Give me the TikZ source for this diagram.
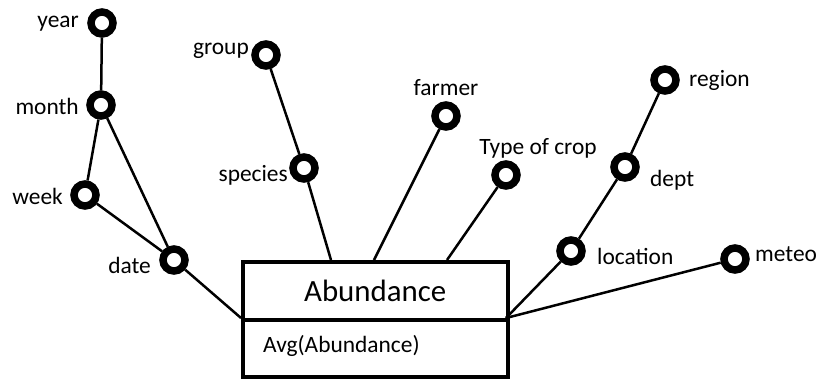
\documentclass[tikz,border=0pt]{standalone}
\usepackage{fontspec}
\setmainfont{Carlito}
\begin{document}
\begin{tikzpicture}[x=1bp,y=-1bp,
  dim/.style={circle,draw=black,line width=7.5bp,minimum size=22bp,inner sep=0pt,fill=white},
  lbl/.style={font=\fontsize{23.5}{25}\selectfont,inner sep=0pt},
  link/.style={line width=2.5bp}]
\useasboundingbox (0,0) rectangle (819,378);
% box
\node[draw,line width=3.5bp,minimum width=265bp,minimum height=58bp,inner sep=0pt,anchor=north west,font=\fontsize{31}{33}\selectfont] (fact) at (241,260) {Abundance};
\node[draw,line width=3.5bp,minimum width=265bp,minimum height=57bp,inner sep=0pt,anchor=north west] (meas) at (241,318) {};
\node[lbl,anchor=west] (measl) at (263,346) {Avg(Abundance)};
\coordinate (bl) at (241,318);
\coordinate (br) at (506,318);
\coordinate (t1) at (331,260);
\coordinate (t2) at (374,260);
\coordinate (t3) at (447,260);
% dimension circles
\node[dim] (year) at (102,23) {};
\node[dim] (month) at (101,105) {};
\node[dim] (week) at (85,195) {};
\node[dim] (date) at (174,260) {};
\node[dim] (group) at (266,55) {};
\node[dim] (species) at (304,168) {};
\node[dim] (farmer) at (446,116) {};
\node[dim] (crop) at (506,175) {};
\node[dim] (region) at (665,80) {};
\node[dim] (dept) at (625,167) {};
\node[dim] (location) at (571,251) {};
\node[dim] (meteo) at (735,259) {};
% links
\draw[link] (year) -- (month);
\draw[link] (month) -- (week);
\draw[link] (month) -- (date);
\draw[link] (week) -- (date);
\draw[link] (date) -- (bl);
\draw[link] (group) -- (species);
\draw[link] (species) -- (t1);
\draw[link] (farmer) -- (t2);
\draw[link] (crop) -- (t3);
\draw[link] (region) -- (dept);
\draw[link] (dept) -- (location);
\draw[link] (location) -- (br);
\draw[link] (meteo) -- (br);
% labels
\node[lbl,anchor=east] (yearl) at (79,24) {year};
\node[lbl,anchor=east] (monthl) at (79,106) {month};
\node[lbl,anchor=east] (weekl) at (63,196) {week};
\node[lbl,anchor=east] (datel) at (151,265) {date};
\node[lbl,anchor=east] (groupl) at (249,51) {group};
\node[lbl,anchor=east] (speciesl) at (288,175) {species};
\node[lbl] (farmerl) at (446,88) {farmer};
\node[lbl] (cropl) at (538,148) {Type of crop};
\node[lbl,anchor=west] (regionl) at (689,80) {region};
\node[lbl,anchor=west] (deptl) at (650,180) {dept};
\node[lbl,anchor=west] (locationl) at (597,256) {location};
\node[lbl,anchor=west] (meteol) at (755,254) {meteo};
\end{tikzpicture}
\end{document}
